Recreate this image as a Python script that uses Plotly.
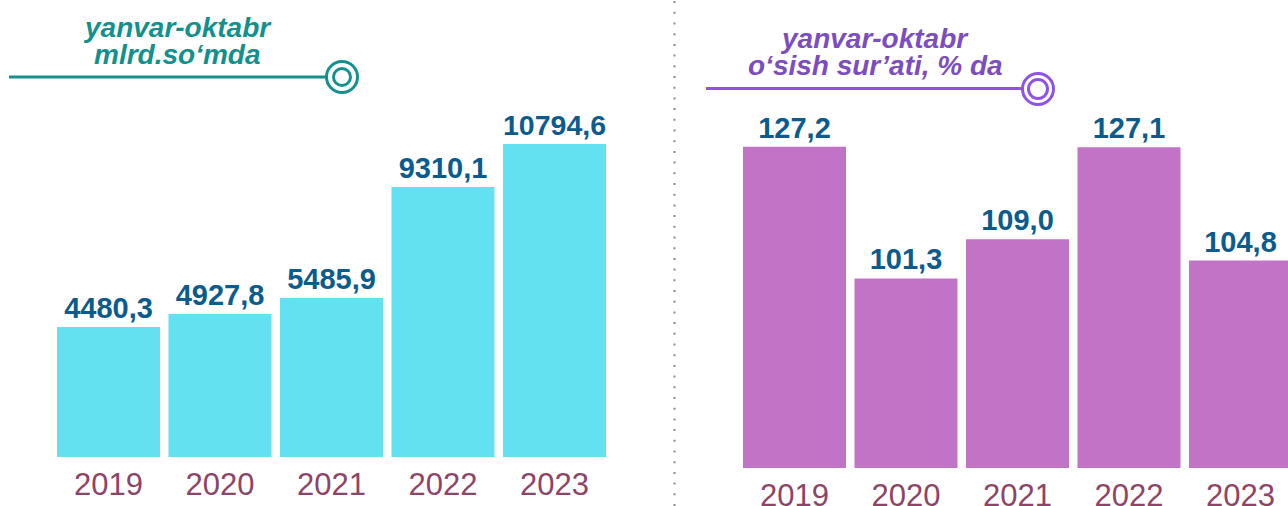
import plotly.graph_objects as go

years = ["2019", "2020", "2021", "2022", "2023"]
volume_bln = [4480.3, 4927.8, 5485.9, 9310.1, 10794.6]
growth_pct = [127.2, 101.3, 109.0, 127.1, 104.8]

W, H = 1288, 506

def px(x):
    return x / W

def py(y):
    return 1 - y / H

def fmt(v):
    return f"{v:.1f}".replace(".", ",")

LABEL_FONT = dict(family="Liberation Sans, Arial, sans-serif", size=29, color="#0b5b8d", weight="bold")
TICK_FONT = dict(family="Liberation Sans, Arial, sans-serif", size=31, color="#8c4467")

fig = go.Figure()

fig.add_trace(go.Bar(
    x=years, y=volume_bln, xaxis="x", yaxis="y",
    marker=dict(color="#63e1f1", line=dict(width=0)),
    text=[fmt(v) for v in volume_bln], textposition="outside",
    textfont=LABEL_FONT, hoverinfo="skip",
))
fig.add_trace(go.Bar(
    x=years, y=growth_pct, xaxis="x2", yaxis="y2",
    marker=dict(color="#c173c6", line=dict(width=0)),
    text=[fmt(v) for v in growth_pct], textposition="outside",
    textfont=LABEL_FONT, hoverinfo="skip",
))

fig.update_layout(
    width=W, height=H,
    margin=dict(l=0, r=0, t=0, b=0, autoexpand=False),
    paper_bgcolor="white", plot_bgcolor="white",
    showlegend=False,
    bargap=0.076,
    xaxis=dict(domain=[px(52.75), px(610.25)], type="category", range=[-0.5, 4.5],
               showgrid=False, zeroline=False, showline=False, ticks="", automargin=False,
               tickfont=TICK_FONT, ticklabelstandoff=6, anchor="y"),
    yaxis=dict(domain=[py(457), py(100)], range=[0, 12310], visible=False, anchor="x",
               automargin=False),
    xaxis2=dict(domain=[px(738.75), 1.0], type="category", range=[-0.5, 4.426],
                showgrid=False, zeroline=False, showline=False, ticks="", automargin=False,
                tickfont=TICK_FONT, ticklabelstandoff=6, anchor="y2"),
    yaxis2=dict(domain=[py(468), py(100)], range=[64, 136.4], visible=False, anchor="x2",
                automargin=False),
)

TITLE_FONT_L = dict(family="Liberation Sans, Arial, sans-serif", size=28, color="#12908e")
TITLE_FONT_R = dict(family="Liberation Sans, Arial, sans-serif", size=28, color="#7b4dbf")

annotations = [
    dict(text="<b><i>yanvar-oktabr</i></b>", x=px(177), y=py(27.7), font=TITLE_FONT_L),
    dict(text="<b><i>mlrd.so‘mda</i></b>", x=px(177), y=py(54.3), font=TITLE_FONT_L),
    dict(text="<b><i>yanvar-oktabr</i></b>", x=px(874), y=py(38.3), font=TITLE_FONT_R),
    dict(text="<b><i>o‘sish sur’ati, % da</i></b>", x=px(875), y=py(65.3), font=TITLE_FONT_R),
]
for a in annotations:
    a.update(xref="paper", yref="paper", xanchor="center", yanchor="middle", showarrow=False)
fig.update_layout(annotations=annotations)

def circle(cx, cy, r, color, fill="white", w=3):
    return dict(type="circle", xref="paper", yref="paper",
                x0=px(cx - r), x1=px(cx + r), y0=py(cy + r), y1=py(cy - r),
                line=dict(color=color, width=w), fillcolor=fill, layer="above")

teal = "#16908f"
purple = "#8f52e6"
shapes = [
    dict(type="line", xref="paper", yref="paper", x0=px(9), x1=px(327), y0=py(77), y1=py(77),
         line=dict(color=teal, width=3)),
    circle(342, 77, 15.5, teal),
    circle(342, 77, 8.5, teal),
    dict(type="line", xref="paper", yref="paper", x0=px(706), x1=px(1023), y0=py(88.5), y1=py(88.5),
         line=dict(color=purple, width=3)),
    circle(1038, 89, 15.5, purple),
    circle(1038, 89, 9.5, purple),
    dict(type="line", xref="paper", yref="paper", x0=px(674.5), x1=px(674.5), y0=0, y1=1,
         line=dict(color="#8a8a8a", width=2, dash="2px,8.7px")),
]
fig.update_layout(shapes=shapes)

fig.write_html("out.html", config={"displayModeBar": False},
               post_script="document.body.style.margin='0px';")
